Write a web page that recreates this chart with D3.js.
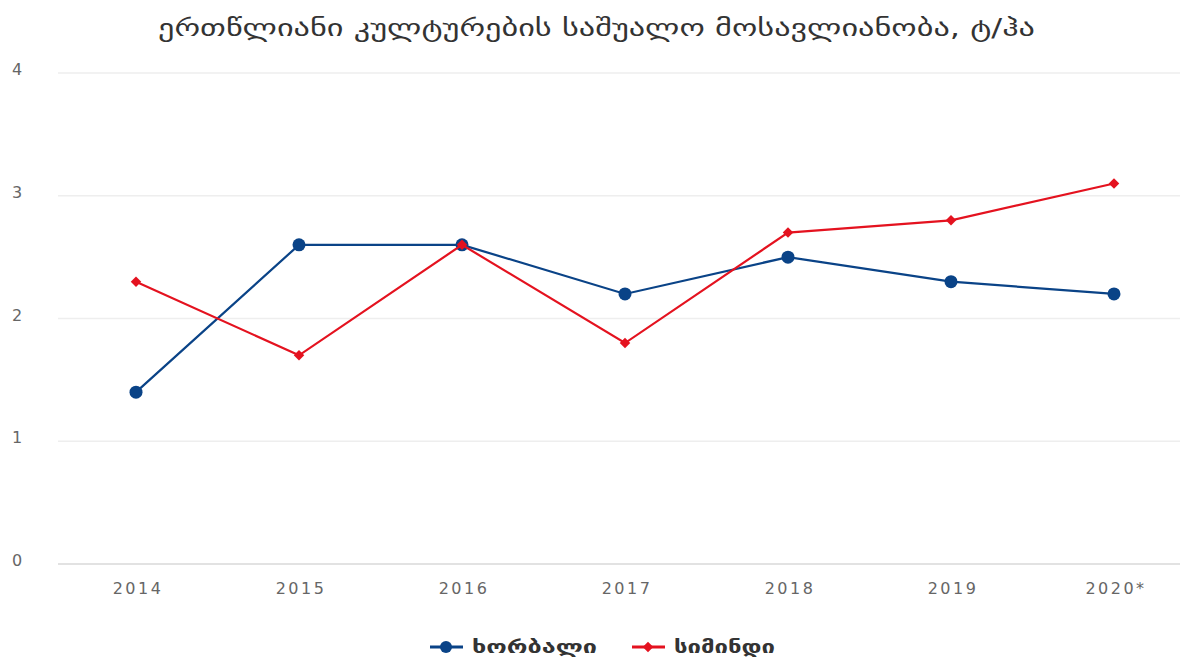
<!DOCTYPE html>
<html>
<head>
<meta charset="utf-8">
<script src="https://cdn.jsdelivr.net/npm/d3@7/dist/d3.min.js"></script>
<style>
  body { margin: 0; background: #fff; }
  text { font-family: "DejaVu Sans", "Noto Sans", sans-serif; }
</style>
</head>
<body>
<div id="chart"></div>
<script>
var years = ["2014", "2015", "2016", "2017", "2018", "2019", "2020*"];
var wheat = [1.4, 2.6, 2.6, 2.2, 2.5, 2.3, 2.2];
var maize = [2.3, 1.7, 2.6, 1.8, 2.7, 2.8, 3.1];
var yTicks = [0, 1, 2, 3, 4];
var seriesNames = ["ხორბალი", "სიმინდი"];
var title = "ერთწლიანი კულტურების საშუალო მოსავლიანობა, ტ/ჰა";

var W = 1186, H = 659;
var blue = "#0a4387", red = "#e4121f";

var svg = d3.select("#chart").append("svg")
  .attr("width", W)
  .attr("height", H);

var x = d3.scalePoint().domain(years).range([136, 1114]);
var y = d3.scaleLinear().domain([0, 4]).range([564, 73]);

// title, stretched to the reference's wide lettering
svg.append("text")
  .attr("x", 158).attr("y", 36)
  .attr("font-size", 24)
  .attr("fill", "#333")
  .attr("textLength", 877)
  .attr("lengthAdjust", "spacingAndGlyphs")
  .text(title);

// grid
svg.append("g").selectAll("line")
  .data(yTicks)
  .join("line")
  .attr("x1", 58).attr("x2", 1180)
  .attr("y1", function(d) { return y(d); })
  .attr("y2", function(d) { return y(d); })
  .attr("stroke", function(d) { return d === 0 ? "#d9d9d9" : "#eeeeee"; })
  .attr("stroke-width", 1.5);

// y axis
var yAxis = svg.append("g")
  .attr("transform", "translate(24,0)")
  .call(d3.axisLeft(y).tickValues(yTicks).tickFormat(d3.format("d")).tickSize(0));
yAxis.select(".domain").remove();
yAxis.selectAll("text")
  .attr("font-size", 16).attr("fill", "#666")
  .attr("text-anchor", "middle").attr("dx", -4).attr("dy", "0.1em");

// x axis
var xAxis = svg.append("g")
  .attr("transform", "translate(0,564)")
  .call(d3.axisBottom(x).tickSize(0));
xAxis.select(".domain").remove();
xAxis.selectAll("text")
  .attr("font-size", 16).attr("fill", "#666")
  .attr("letter-spacing", 2.5).attr("dx", 1.5)
  .attr("dy", "1.7em");

var line = d3.line()
  .x(function(d, i) { return x(years[i]); })
  .y(function(d) { return y(d); });

// wheat
svg.append("path")
  .attr("d", line(wheat))
  .attr("fill", "none").attr("stroke", blue).attr("stroke-width", 2.2);
svg.append("g").selectAll("circle")
  .data(wheat)
  .join("circle")
  .attr("cx", function(d, i) { return x(years[i]); })
  .attr("cy", function(d) { return y(d); })
  .attr("r", 6.5)
  .attr("fill", blue);

// maize
svg.append("path")
  .attr("d", line(maize))
  .attr("fill", "none").attr("stroke", red).attr("stroke-width", 2.2);
var diamond = d3.symbol().type(d3.symbolSquare).size(55);
svg.append("g").selectAll("path")
  .data(maize)
  .join("path")
  .attr("d", diamond)
  .attr("transform", function(d, i) { return "translate(" + x(years[i]) + "," + y(d) + ") rotate(45)"; })
  .attr("fill", red);

// legend
var legend = svg.append("g").attr("transform", "translate(0,647)");
var legItems = [
  { name: seriesNames[0], color: blue, x0: 430, shape: "circle", len: 125 },
  { name: seriesNames[1], color: red, x0: 632, shape: "diamond", len: 101 }
];
legItems.forEach(function(it) {
  legend.append("line")
    .attr("x1", it.x0).attr("x2", it.x0 + 33)
    .attr("y1", 0).attr("y2", 0)
    .attr("stroke", it.color).attr("stroke-width", 3);
  if (it.shape === "circle") {
    legend.append("circle").attr("cx", it.x0 + 16).attr("cy", 0).attr("r", 6).attr("fill", it.color);
  } else {
    legend.append("path").attr("d", diamond).attr("transform", "translate(" + (it.x0 + 16) + ",0) rotate(45)").attr("fill", it.color);
  }
  legend.append("text")
    .attr("x", it.x0 + 42).attr("y", 6)
    .attr("font-size", 17).attr("font-weight", "bold").attr("fill", "#333")
    .attr("textLength", it.len)
    .attr("lengthAdjust", "spacingAndGlyphs")
    .text(it.name);
});
</script>
</body>
</html>
